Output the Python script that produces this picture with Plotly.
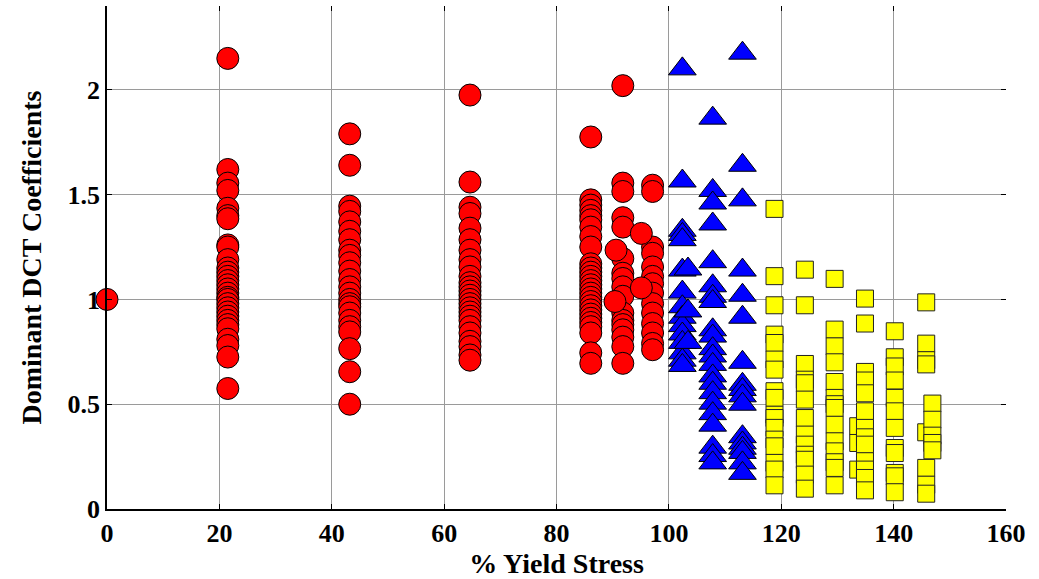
import plotly.graph_objects as go

# ---------------- data ----------------
red_cols = [0.0, 21.5, 43.2, 64.6, 86.1, 91.8, 97.1]
red_vals = [
    [1.0],
    [2.15, 1.62, 1.555, 1.52, 1.435, 1.40, 1.385, 1.26, 1.25, 1.19, 1.15, 1.13, 1.11,
     1.09, 1.07, 1.05, 1.03, 1.01, 1.0, 0.98, 0.96, 0.94, 0.92, 0.90, 0.88, 0.86,
     0.81, 0.78, 0.725, 0.575],
    [1.79, 1.64, 1.445, 1.42, 1.37, 1.325, 1.285, 1.235, 1.21, 1.175, 1.135, 1.095,
     1.06, 1.03, 1.0, 0.98, 0.965, 0.935, 0.90, 0.87, 0.845, 0.765, 0.655, 0.50],
    [1.975, 1.56, 1.44, 1.41, 1.34, 1.285, 1.235, 1.19, 1.155, 1.11, 1.08, 1.06,
     1.04, 1.02, 1.0, 0.98, 0.96, 0.94, 0.92, 0.90, 0.87, 0.84, 0.80, 0.775, 0.735, 0.71],
    [1.775, 1.475, 1.45, 1.425, 1.40, 1.38, 1.345, 1.30, 1.25, 1.17, 1.15, 1.13, 1.11,
     1.09, 1.07, 1.05, 1.03, 1.01, 0.99, 0.97, 0.95, 0.93, 0.91, 0.89, 0.87, 0.84,
     0.745, 0.695],
    [2.02, 1.555, 1.515, 1.39, 1.345, 1.195, 1.125, 1.10, 1.06, 1.015, 0.935, 0.90,
     0.88, 0.855, 0.82, 0.775, 0.695],
    [1.545, 1.515, 1.25, 1.22, 1.155, 1.11, 1.075, 1.03, 0.98, 0.935, 0.885, 0.84,
     0.79, 0.76],
]
red_extra_x = [90.6, 90.4, 95.1, 95.1]
red_extra_y = [1.235, 0.99, 1.315, 1.055]

blue_cols = [102.4, 103.4, 107.8, 113.1]
blue_vals = [
    [2.10, 1.565, 1.33, 1.31, 1.285, 1.14, 1.035, 0.965, 0.915, 0.875, 0.835, 0.795,
     0.745, 0.71, 0.685],
    [1.145, 0.945, 0.795],
    [1.865, 1.52, 1.46, 1.36, 1.18, 1.065, 1.015, 0.99, 0.855, 0.825, 0.765, 0.73,
     0.69, 0.635, 0.60, 0.555, 0.505, 0.455, 0.40, 0.295, 0.255, 0.22],
    [2.175, 1.64, 1.475, 1.14, 1.02, 0.915, 0.70, 0.595, 0.57, 0.54, 0.50, 0.345,
     0.315, 0.29, 0.27, 0.22, 0.17],
]

yellow_cols = [133.7, 145.8, 118.8, 124.2, 129.5, 134.9, 140.2, 146.9]
yellow_vals = [
    [0.395, 0.315, 0.188],
    [0.986, 0.789, 0.71, 0.69, 0.366, 0.196, 0.116, 0.073],
    [1.432, 1.111, 0.972, 0.832, 0.792, 0.713, 0.665, 0.562, 0.53, 0.45, 0.434,
     0.387, 0.331, 0.299, 0.22, 0.188, 0.113],
    [1.142, 0.972, 0.692, 0.617, 0.60, 0.522, 0.434, 0.355, 0.307, 0.259, 0.235,
     0.164, 0.097],
    [1.098, 0.856, 0.776, 0.70, 0.606, 0.53, 0.50, 0.482, 0.402, 0.323, 0.275,
     0.223, 0.196, 0.113],
    [1.004, 0.885, 0.654, 0.613, 0.552, 0.466, 0.387, 0.342, 0.307, 0.228, 0.188,
     0.148, 0.089],
    [0.848, 0.724, 0.68, 0.613, 0.53, 0.466, 0.387, 0.291, 0.267, 0.172, 0.156, 0.08],
    [0.503, 0.426, 0.35, 0.315, 0.28],
]

x_ticks = [0, 20, 40, 60, 80, 100, 120, 140, 160]
y_ticks = [0, 0.5, 1, 1.5, 2]
x_title = "% Yield Stress"
y_title = "Dominant DCT Coefficients"


def flatten(cols, vals):
    xs, ys = [], []
    for c, vs in zip(cols, vals):
        for v in vs:
            xs.append(c)
            ys.append(v)
    return xs, ys


rx, ry = flatten(red_cols, red_vals)
rx += red_extra_x
ry += red_extra_y
bx, by = flatten(blue_cols, blue_vals)
yx, yy = flatten(yellow_cols, yellow_vals)

FONT = "Liberation Serif"

fig = go.Figure()
fig.add_trace(go.Scatter(
    x=rx, y=ry, mode="markers", cliponaxis=False,
    marker=dict(symbol="circle", size=22, color="#ff0000",
                line=dict(color="black", width=1)),
    showlegend=False))
fig.add_trace(go.Scatter(
    x=bx, y=by, mode="markers", cliponaxis=False,
    marker=dict(symbol="triangle-up", size=24, color="#0000ff",
                line=dict(color="black", width=1)),
    showlegend=False))
fig.add_trace(go.Scatter(
    x=yx, y=yy, mode="markers", cliponaxis=False,
    marker=dict(symbol="square", size=17, color="#ffff00",
                line=dict(color="#222222", width=1)),
    showlegend=False))
# empty trace so the mirrored tick axes are drawn
fig.add_trace(go.Scatter(x=[], y=[], xaxis="x2", yaxis="y2", showlegend=False))

tickfont = dict(family=FONT, size=26, color="black", weight="bold")
titlefont = dict(family=FONT, size=28, color="black", weight="bold")

fig.update_layout(
    width=1039, height=579,
    margin=dict(l=107, r=33, t=6, b=70),
    paper_bgcolor="white", plot_bgcolor="white",
    xaxis=dict(range=[0, 160], tickvals=x_ticks, ticks="inside", ticklen=5,
               tickcolor="black", showline=True, linecolor="black", linewidth=1.5,
               showgrid=True, gridcolor="#9a9a9a", gridwidth=1, zeroline=False,
               tickfont=tickfont,
               title=dict(text=x_title, standoff=5, font=titlefont)),
    yaxis=dict(range=[0, 2.4], tickvals=y_ticks, ticks="inside", ticklen=5,
               tickcolor="black", showline=True, linecolor="black", linewidth=1.5,
               showgrid=True, gridcolor="#9a9a9a", gridwidth=1, zeroline=False,
               tickfont=tickfont,
               title=dict(text=y_title, standoff=18, font=titlefont)),
    xaxis2=dict(range=[0, 160], tickvals=x_ticks, ticks="inside", ticklen=5,
                tickcolor="black", overlaying="x", side="top", anchor="y",
                showticklabels=False, showgrid=False, showline=False, zeroline=False),
    yaxis2=dict(range=[0, 2.4], tickvals=y_ticks, ticks="inside", ticklen=5,
                tickcolor="black", overlaying="y", side="right", anchor="x",
                showticklabels=False, showgrid=False, showline=False, zeroline=False),
)

fig.write_html("out.html")
